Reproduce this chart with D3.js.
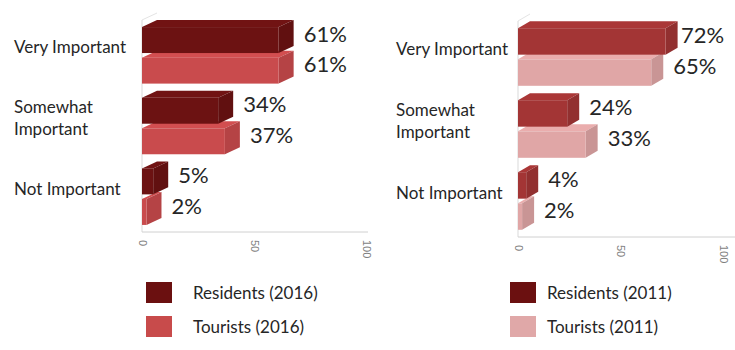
<!DOCTYPE html>
<html>
<head>
<meta charset="utf-8">
<script src="https://cdn.jsdelivr.net/npm/d3@7"></script>
<style>
  body { margin: 0; background: #fff; }
  svg { display: block; font-family: Lato, "Open Sans", sans-serif; }
</style>
</head>
<body>
<div id="chart"></div>
<script>
var width = 735;
var height = 350;

// data
var categories = ["Very Important", "Somewhat Important", "Not Important"];
var categoryLines = [["Very Important"], ["Somewhat", "Important"], ["Not Important"]];
var residents2016 = [61, 34, 5];
var tourists2016 = [61, 37, 2];
var residents2011 = [72, 24, 4];
var tourists2011 = [65, 33, 2];
var seriesNames2016 = ["Residents (2016)", "Tourists (2016)"];
var seriesNames2011 = ["Residents (2011)", "Tourists (2011)"];
var xTicks = [0, 50, 100];

var svg = d3.select("#chart").append("svg")
    .attr("width", width)
    .attr("height", height);

function shade(c, k) {
    var col = d3.rgb(c);
    return k > 0 ? col.brighter(k).toString() : col.darker(-k).toString();
}

function drawPanel(p) {
    var g = svg.append("g");

    var x = d3.scaleLinear().domain([0, 100]).range([p.x0, p.x1]);
    var y = d3.scaleBand().domain(categories).range([p.yTop, p.axisY]).paddingInner(0.2).paddingOuter(0.1);
    var ySub = d3.scaleBand().domain([0, 1]).range([0, y.bandwidth()]).paddingInner(0.15);

    // axis lines
    g.append("line")
        .attr("x1", p.x0).attr("x2", p.x0)
        .attr("y1", p.yTop).attr("y2", p.axisY)
        .attr("stroke", "#d9d9d9");
    g.append("line")
        .attr("x1", p.x0).attr("x2", p.x0 + p.dx)
        .attr("y1", p.yTop).attr("y2", p.yTop - p.dy)
        .attr("stroke", "#e4e4e4");

    var axis = g.append("g")
        .attr("transform", "translate(0," + p.axisY + ")")
        .call(d3.axisBottom(x).tickValues(xTicks).tickSize(0).tickSizeOuter(0));
    axis.select(".domain").attr("stroke", "#d0d0d0").attr("d", "M" + p.x0 + ",0H" + p.axisEnd);
    axis.selectAll("text")
        .attr("transform", "rotate(90)")
        .attr("x", 8).attr("y", 0).attr("dy", "0.35em")
        .attr("text-anchor", "start")
        .attr("fill", "#7f7f7f")
        .style("font-size", "11px");

    var rows = [];
    categories.forEach(function(c, i) {
        // tourists first so the residents bar sits over its top face
        rows.push({cat: c, s: 1, v: p.series[1][i]});
        rows.push({cat: c, s: 0, v: p.series[0][i]});
    });

    var bars = g.selectAll("g.bar").data(rows).enter().append("g").attr("class", "bar");

    bars.each(function(d) {
        var b = d3.select(this);
        var yy = y(d.cat) + ySub(d.s);
        var h = ySub.bandwidth();
        var xa = x(0), xb = x(d.v);
        var c = p.colors[d.s];
        b.append("polygon")
            .attr("points", [[xa, yy], [xa + p.dx, yy - p.dy], [xb + p.dx, yy - p.dy], [xb, yy]].join(" "))
            .attr("fill", shade(c, 0.12));
        b.append("polygon")
            .attr("points", [[xb, yy], [xb + p.dx, yy - p.dy], [xb + p.dx, yy + h - p.dy], [xb, yy + h]].join(" "))
            .attr("fill", shade(c, -0.3));
        b.append("rect")
            .attr("x", xa).attr("y", yy)
            .attr("width", xb - xa).attr("height", h)
            .attr("fill", c);
        b.append("text")
            .attr("x", Math.min(xb + p.dx + 10, p.labelMax))
            .attr("y", yy + h / 2 - 6)
            .attr("dy", "0.35em")
            .attr("fill", "#262626")
            .style("font-size", "22px")
            .text(d.v + "%");
    });

    // category labels
    categories.forEach(function(c, i) {
        var lines = categoryLines[i];
        var cy = y(c) + y.bandwidth() / 2 - 8;
        var t = g.append("text")
            .attr("x", p.labelX)
            .attr("fill", "#262626")
            .style("font-size", "17px");
        lines.forEach(function(l, j) {
            t.append("tspan")
                .attr("x", p.labelX)
                .attr("y", cy + (j - (lines.length - 1) / 2) * 22)
                .attr("dy", "0.35em")
                .text(l);
        });
    });

    // legend
    p.names.forEach(function(n, i) {
        var ly = 282 + i * 34;
        g.append("rect")
            .attr("x", p.legendX).attr("y", ly)
            .attr("width", 26).attr("height", 21)
            .attr("fill", p.legendColors[i]);
        g.append("text")
            .attr("x", p.legendTextX).attr("y", ly + 11)
            .attr("dy", "0.35em")
            .attr("fill", "#262626")
            .style("font-size", "17px")
            .text(n);
    });
}

drawPanel({
    x0: 142, x1: 366, yTop: 20, axisY: 232, axisEnd: 368, dx: 15, dy: 7,
    labelX: 14, labelMax: 720,
    series: [residents2016, tourists2016],
    colors: ["#6c1212", "#c94b4d"],
    legendColors: ["#6b1010", "#c84b4b"],
    names: seriesNames2016,
    legendX: 146, legendTextX: 193
});

drawPanel({
    x0: 518, x1: 723, yTop: 21, axisY: 237, axisEnd: 735, dx: 12, dy: 7,
    labelX: 396, labelMax: 681,
    series: [residents2011, tourists2011],
    colors: ["#a33535", "#e0a6a6"],
    legendColors: ["#6b1010", "#e0a8a8"],
    names: seriesNames2011,
    legendX: 510, legendTextX: 547
});
</script>
</body>
</html>
